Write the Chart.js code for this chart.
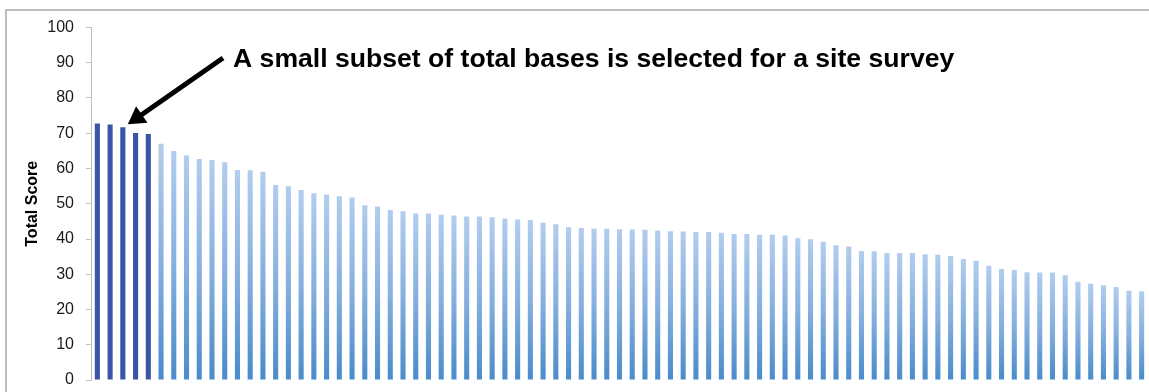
<!DOCTYPE html>
<html>
<head>
<meta charset="utf-8">
<script src="https://cdn.jsdelivr.net/npm/chart.js@4/dist/chart.umd.min.js"></script>
<style>
  html, body { margin: 0; padding: 0; background: #ffffff; overflow: hidden; }
  #wrap { position: relative; width: 1149px; height: 392px; }
  #frame { position: absolute; left: 5px; top: 9px; width: 1200px; height: 450px;
           border-left: 2px solid #bdbdbd; border-top: 2px solid #bdbdbd; }
  #c { position: absolute; left: 0; top: 0; }
</style>
</head>
<body>
<div id="wrap">
  <div id="frame"></div>
  <canvas id="c" width="1149" height="392"></canvas>
</div>
<script>
// ---- data ----
const scores = [
  72.8, 72.5, 71.7, 70.1, 69.8, 67.0, 65.0, 63.7, 62.7, 62.4,
  61.8, 59.6, 59.5, 59.1, 55.3, 55.0, 53.9, 53.0, 52.6, 52.1,
  51.8, 49.6, 49.2, 48.2, 47.9, 47.2, 47.2, 46.9, 46.7, 46.4,
  46.4, 46.2, 45.8, 45.5, 45.4, 44.6, 44.2, 43.3, 43.1, 42.9,
  42.9, 42.8, 42.7, 42.6, 42.4, 42.2, 42.1, 42.0, 42.0, 41.8,
  41.4, 41.4, 41.2, 41.2, 41.0, 40.2, 39.9, 39.2, 38.2, 37.9,
  36.6, 36.5, 36.0, 36.0, 36.0, 35.7, 35.5, 35.2, 34.3, 33.8,
  32.4, 31.5, 31.2, 30.6, 30.5, 30.5, 29.7, 27.9, 27.3, 26.9,
  26.4, 25.3, 25.2
];
const categories = scores.map((_, i) => 'Base ' + (i + 1));
const selectedCount = 5;
const yTicks = [0, 10, 20, 30, 40, 50, 60, 70, 80, 90, 100];
const yTitle = 'Total Score';
const annotationText = 'A small subset of total bases is selected for a site survey';

const FONT = "'Liberation Sans', Arial, sans-serif";
const DARK = '#3a54a6';

const annotationPlugin = {
  id: 'annot',
  afterDraw(chart) {
    const ctx = chart.ctx;
    const xs = chart.scales.x, ys = chart.scales.y;
    // arrow tip anchored near the 3rd selected bar
    const tipX = xs.getPixelForValue(2) + 5;
    const tipY = ys.getPixelForValue(scores[2]) - 3;
    const tailX = 223, tailY = 58;
    const dx = tipX - tailX, dy = tipY - tailY;
    const len = Math.hypot(dx, dy);
    const ux = dx / len, uy = dy / len;
    const headLen = 17, headHalf = 10;
    const bx = tipX - ux * headLen, by = tipY - uy * headLen;
    ctx.save();
    ctx.strokeStyle = '#000';
    ctx.fillStyle = '#000';
    ctx.lineWidth = 5;
    ctx.lineCap = 'butt';
    ctx.beginPath();
    ctx.moveTo(tailX, tailY);
    ctx.lineTo(bx + ux * 2, by + uy * 2);
    ctx.stroke();
    ctx.beginPath();
    ctx.moveTo(tipX, tipY);
    ctx.lineTo(bx - uy * headHalf, by + ux * headHalf);
    ctx.lineTo(bx + uy * headHalf, by - ux * headHalf);
    ctx.closePath();
    ctx.fill();
    ctx.font = 'bold 26.6px ' + FONT;
    ctx.textAlign = 'left';
    ctx.textBaseline = 'alphabetic';
    ctx.fillText(annotationText, 233, 67);
    ctx.restore();
  }
};

new Chart(document.getElementById('c'), {
  type: 'bar',
  data: {
    labels: categories,
    datasets: [{
      data: scores,
      barPercentage: 0.4,
      categoryPercentage: 1.0,
      borderWidth: 0,
      backgroundColor: (c) => {
        if (c.type !== 'data') return '#8db4e2';
        if (c.dataIndex < selectedCount) return DARK;
        const chart = c.chart;
        const ys = chart.scales && chart.scales.y;
        if (!chart.chartArea || !ys) return '#8db4e2';
        const top = ys.getPixelForValue(c.raw);
        const bottom = ys.getPixelForValue(0);
        if (!isFinite(top) || !isFinite(bottom) || bottom - top < 1) return '#8db4e2';
        const g = chart.ctx.createLinearGradient(0, top, 0, bottom);
        g.addColorStop(0, '#b2cdee');
        g.addColorStop(0.5, '#86b0df');
        g.addColorStop(1, '#4a8bca');
        return g;
      }
    }]
  },
  options: {
    responsive: false,
    animation: false,
    devicePixelRatio: 1,
    layout: { padding: { left: 0, right: 1, top: 27.5, bottom: 12 } },
    plugins: {
      legend: { display: false },
      tooltip: { enabled: false },
      title: { display: false }
    },
    scales: {
      x: {
        display: false,
        grid: { display: false }
      },
      y: {
        min: 0,
        max: 100,
        afterFit: (s) => { s.width = 91; s.paddingTop = 0; s.paddingBottom = 0; },
        afterBuildTicks: (s) => { s.ticks = yTicks.map(v => ({ value: v })); },
        border: { display: true, color: '#bfbfbf', width: 1 },
        grid: { drawOnChartArea: false, drawTicks: true, tickLength: 5, color: '#bfbfbf' },
        ticks: {
          color: '#1a1a1a',
          padding: 12,
          font: { family: FONT, size: 16 }
        },
        title: {
          display: true,
          text: yTitle,
          color: '#000',
          font: { family: FONT, size: 16, weight: 'bold' },
          padding: { top: 22.5, bottom: 0 }
        }
      }
    }
  },
  plugins: [annotationPlugin]
});
</script>
</body>
</html>
